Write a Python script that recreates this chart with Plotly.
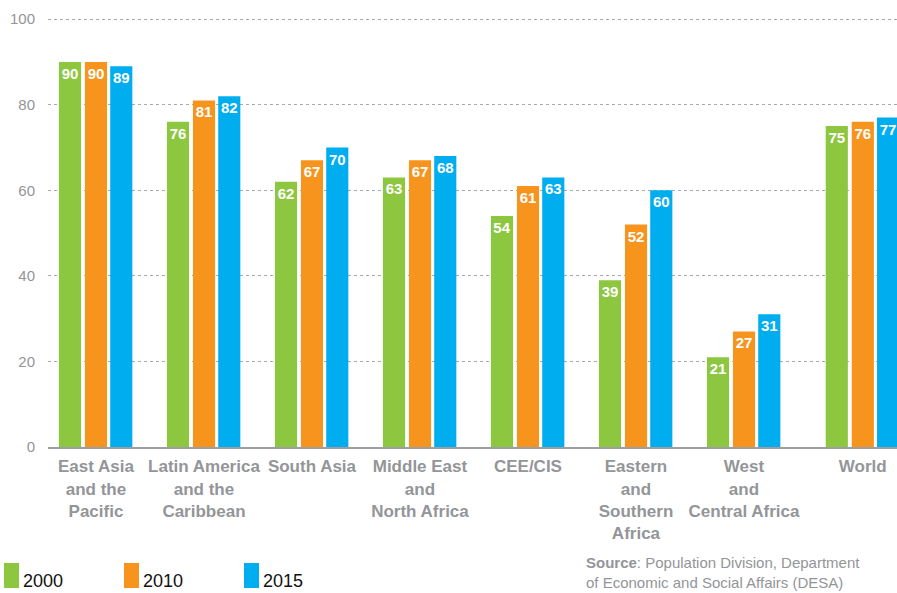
import plotly.graph_objects as go

regions = [
    "East Asia<br>and the<br>Pacific",
    "Latin America<br>and the<br>Caribbean",
    "South Asia",
    "Middle East<br>and<br>North Africa",
    "CEE/CIS",
    "Eastern<br>and<br>Southern<br>Africa",
    "West<br>and<br>Central Africa",
    "World",
]
# World sits a little apart from the regions
xpos = [0, 1, 2, 3, 4, 5, 6, 7.1]

v2000 = [90, 76, 62, 63, 54, 39, 21, 75]
v2010 = [90, 81, 67, 67, 61, 52, 27, 76]
v2015 = [89, 82, 70, 68, 63, 60, 31, 77]

years = ["2000", "2010", "2015"]
colors = ["#8DC63F", "#F7941D", "#00AEEF"]
offsets = [-0.343, -0.102, 0.132]

W, H = 897, 593
L, T, B = 48, 17, 146
PW, PH = W - L, H - T - B


def px(x):
    return (x - L) / PW


def py(y):
    return (H - B - y) / PH


fig = go.Figure()
for name, vals, col, off in zip(years, [v2000, v2010, v2015], colors, offsets):
    fig.add_trace(go.Bar(
        x=xpos, y=vals, name=name,
        width=0.205, offset=off,
        marker=dict(color=col, line=dict(width=0)),
        text=vals, textposition="inside", insidetextanchor="end",
        textangle=0, constraintext="none",
        textfont=dict(family="Liberation Sans, Arial", size=15,
                      color="white", weight="bold"),
        showlegend=False, hoverinfo="skip",
    ))

fig.update_layout(
    width=W, height=H,
    margin=dict(l=L, r=0, t=T, b=B),
    barmode="overlay",
    plot_bgcolor="white", paper_bgcolor="white",
    font=dict(family="Liberation Sans, Arial, sans-serif", color="#939598"),
)

fig.update_xaxes(
    range=[-0.444, 7.417],
    tickmode="array", tickvals=xpos, ticktext=regions,
    tickfont=dict(size=17, color="#939598", weight="bold"),
    showgrid=False, zeroline=False,
    showline=True, linecolor="#9d9fa2", linewidth=2,
    ticks="", ticklabelstandoff=3,
)
fig.update_yaxes(
    range=[0, 100.5], tickvals=[0, 20, 40, 60, 80, 100],
    tickfont=dict(size=15, color="#939598"),
    showgrid=True, gridcolor="#a7a9ac", griddash="dot", gridwidth=1,
    zeroline=False, showline=False,
    ticks="", ticklabelstandoff=12,
)

# legend drawn by hand: tall colour blocks with the year beside them
for i, (name, col) in enumerate(zip(years, colors)):
    x0 = 4 + 120 * i
    fig.add_shape(type="rect", xref="paper", yref="paper",
                  x0=px(x0), x1=px(x0 + 15), y0=py(588), y1=py(563),
                  fillcolor=col, line=dict(width=0))
    fig.add_annotation(xref="paper", yref="paper", x=px(x0 + 17), y=py(581),
                       xanchor="left", yanchor="middle", showarrow=False,
                       text=name,
                       font=dict(family="Liberation Sans, Arial", size=18,
                                 color="#111111"))

fig.add_annotation(
    xref="paper", yref="paper", x=px(584), y=py(552),
    xanchor="left", yanchor="top", align="left", showarrow=False,
    text="<b>Source</b>: Population Division, Department<br>of Economic and Social Affairs (DESA)",
    font=dict(family="Liberation Sans, Arial", size=15, color="#939598"),
)

fig.write_html("out.html", config={"displayModeBar": False},
               post_script="document.body.style.margin='0';")
